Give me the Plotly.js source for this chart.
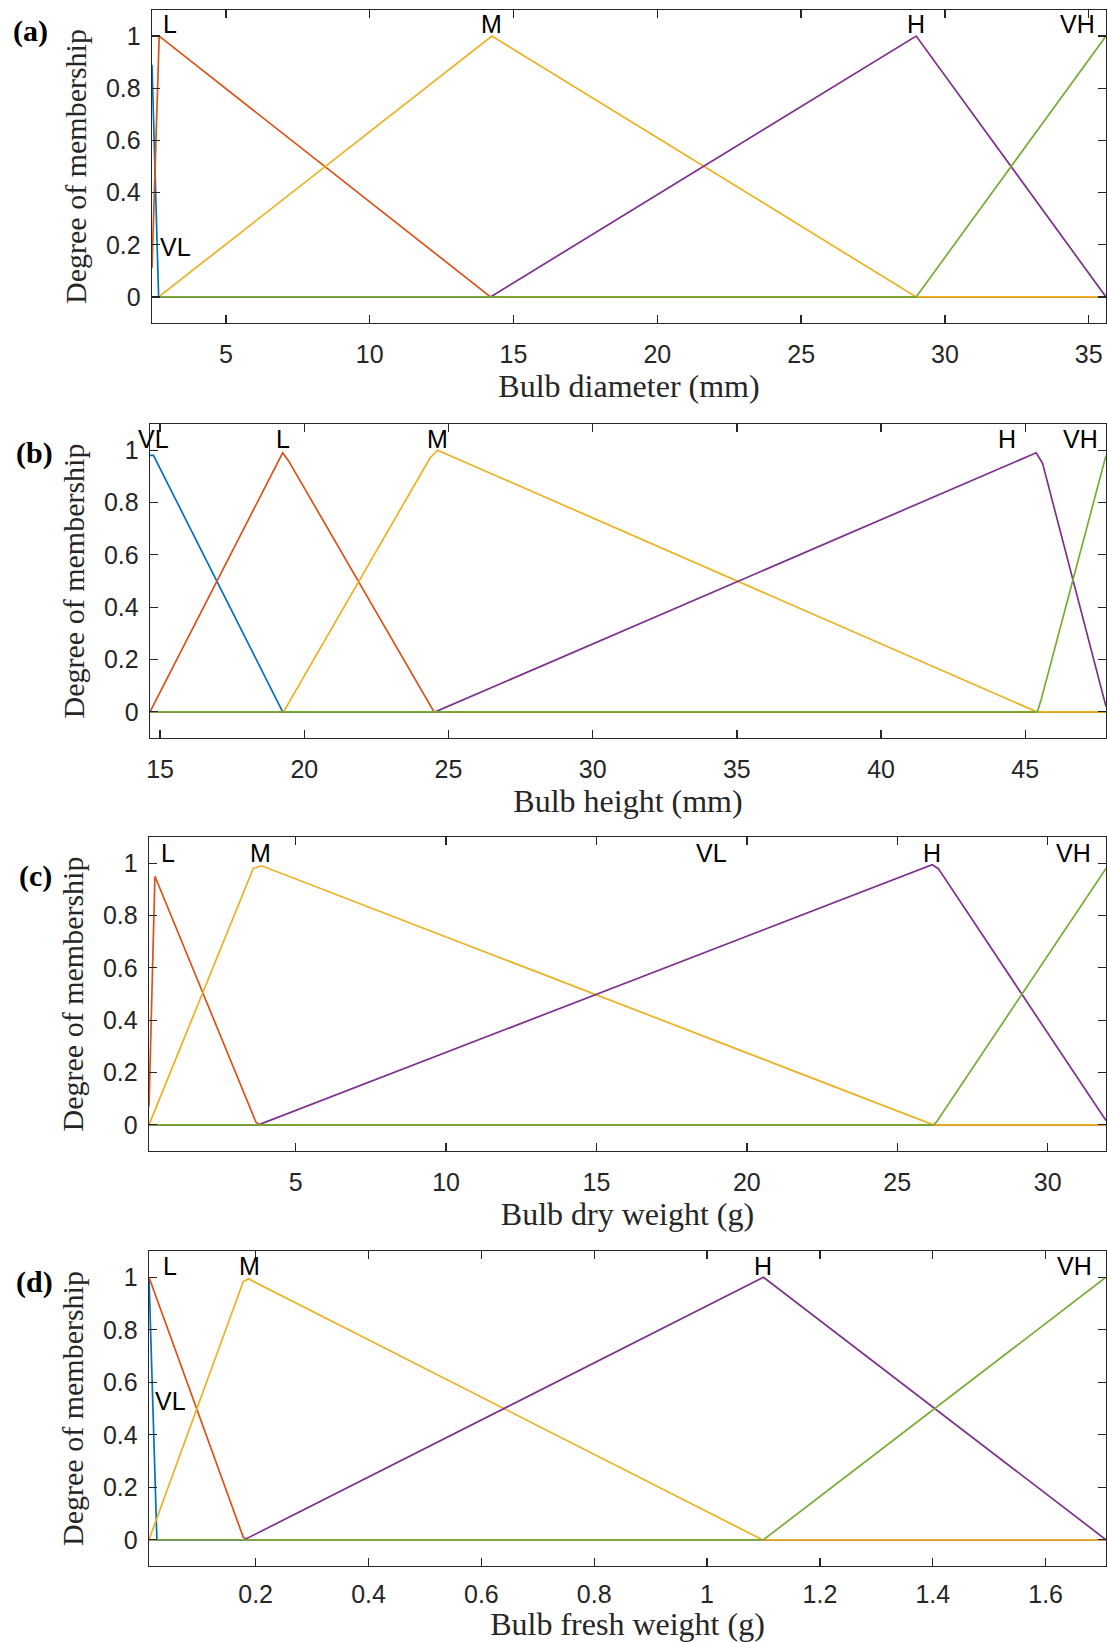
<!DOCTYPE html>
<html>
<head>
<meta charset="utf-8">
<script src="https://cdn.plot.ly/plotly-3.0.1.min.js"></script>
<style>html,body{margin:0;padding:0;background:#fff;}#chart{width:1107px;height:1642px;}</style>
</head>
<body>
<div id="chart"></div>
<script>
// ---------------- DATA ----------------
const mfNames = ["VL", "L", "M", "H", "VH"];
const axisTitles = ["Bulb diameter (mm)", "Bulb height (mm)", "Bulb dry weight (g)", "Bulb fresh weight (g)"];
const yTitle = "Degree of membership";
const panelTags = ["(a)", "(b)", "(c)", "(d)"];

// (a) Bulb diameter
const diamRange = [2.43, 35.6];
const diamTicks = [5, 10, 15, 20, 25, 30, 35];
const diamX_VL = [2.43, 2.66, 35.6];          const diamY_VL = [0.89, 0, 0];
const diamX_L  = [2.43, 2.68, 14.2, 35.6];    const diamY_L  = [0.11, 1, 0, 0];
const diamX_M  = [2.43, 2.66, 14.25, 29.0, 35.6]; const diamY_M = [0, 0, 1, 0, 0];
const diamX_H  = [2.43, 14.2, 29.0, 35.6];    const diamY_H  = [0, 0, 1, 0];
const diamX_VH = [2.43, 29.0, 35.6];          const diamY_VH = [0, 0, 1];
const diamLabX = [3.24, 3.07, 14.25, 29.0, 34.62];
const diamLabY = [0.19, 1.048, 1.048, 1.048, 1.048];

// (b) Bulb height
const heightRange = [14.65, 47.8];
const heightTicks = [15, 20, 25, 30, 35, 40, 45];
const heightX_VL = [14.65, 14.77, 19.25, 47.8];            const heightY_VL = [0.98, 0.98, 0, 0];
const heightX_L  = [14.65, 19.25, 19.45, 24.5, 47.8];      const heightY_L  = [0, 0.99, 0.96, 0, 0];
const heightX_M  = [14.65, 19.28, 24.36, 24.62, 45.4, 47.8]; const heightY_M = [0, 0, 0.97, 1.0, 0, 0];
const heightX_H  = [14.65, 24.54, 45.38, 45.6, 47.8];      const heightY_H  = [0, 0, 0.99, 0.95, 0.02];
const heightX_VH = [14.65, 45.42, 45.56, 47.8];            const heightY_VH = [0, 0, 0.05, 0.98];
const heightLabX = [14.77, 19.25, 24.62, 44.36, 46.91];
const heightLabY = [1.042, 1.042, 1.042, 1.042, 1.042];

// (c) Bulb dry weight
const dryRange = [0.123, 31.94];
const dryTicks = [5, 10, 15, 20, 25, 30];
const dryX_VL = [0.123, 31.94];                       const dryY_VL = [0, 0];
const dryX_L  = [0.123, 0.32, 3.68, 3.8, 31.94];      const dryY_L  = [0.07, 0.95, 0.01, 0, 0];
const dryX_M  = [0.123, 3.59, 3.87, 26.2, 31.94];     const dryY_M  = [0, 0.98, 0.99, 0, 0];
const dryX_H  = [0.123, 3.76, 26.16, 26.36, 31.94];   const dryY_H  = [0, 0, 0.994, 0.98, 0.016];
const dryX_VH = [0.123, 26.2, 26.3, 31.94];           const dryY_VH = [0, 0, 0.01, 0.98];
const dryLabX = [18.84, 0.77, 3.84, 26.17, 30.85];
const dryLabY = [1.038, 1.038, 1.038, 1.038, 1.038];

// (d) Bulb fresh weight
const freshRange = [0.011, 1.707];
const freshTicks = [0.2, 0.4, 0.6, 0.8, 1, 1.2, 1.4, 1.6];
const freshX_VL = [0.011, 0.025, 1.707];               const freshY_VL = [1, 0, 0];
const freshX_L  = [0.011, 0.178, 0.185, 1.707];        const freshY_L  = [1, 0.01, 0, 0];
const freshX_M  = [0.011, 0.178, 0.187, 1.098, 1.707]; const freshY_M  = [0, 0.983, 0.994, 0, 0];
const freshX_H  = [0.011, 0.18, 1.10, 1.707];          const freshY_H  = [0, 0, 1, 0];
const freshX_VH = [0.011, 1.10, 1.707];                const freshY_VH = [0, 0, 1];
const freshLabX = [0.049, 0.048, 0.189, 1.099, 1.652];
const freshLabY = [0.528, 1.041, 1.041, 1.041, 1.041];

const yTicks = [0, 0.2, 0.4, 0.6, 0.8, 1];
const yRange = [-0.1, 1.1];

// ---------------- STYLE / LAYOUT ----------------
const W = 1107, H = 1642;
const colors = ["#0072BD", "#D95319", "#EDB120", "#7E2F8E", "#77AC30"];
const sans = "Liberation Sans, Arial, sans-serif";
const serif = "Liberation Serif, Times New Roman, serif";
const axCol = "#262626";

// pixel boxes [left, top, right, bottom]
const boxes = [[152, 10, 1106, 323], [150, 424, 1106, 738], [149, 837, 1106, 1151], [149, 1251, 1106, 1566]];
const tagPos = [[30, 31], [34, 453], [35, 876], [34, 1282]];
const xLabelStandoff = [9, 9, 9, 6];

const panels = [
  {range: diamRange, ticks: diamTicks, xs: [diamX_VL, diamX_L, diamX_M, diamX_H, diamX_VH], ys: [diamY_VL, diamY_L, diamY_M, diamY_H, diamY_VH], lx: diamLabX, ly: diamLabY},
  {range: heightRange, ticks: heightTicks, xs: [heightX_VL, heightX_L, heightX_M, heightX_H, heightX_VH], ys: [heightY_VL, heightY_L, heightY_M, heightY_H, heightY_VH], lx: heightLabX, ly: heightLabY},
  {range: dryRange, ticks: dryTicks, xs: [dryX_VL, dryX_L, dryX_M, dryX_H, dryX_VH], ys: [dryY_VL, dryY_L, dryY_M, dryY_H, dryY_VH], lx: dryLabX, ly: dryLabY},
  {range: freshRange, ticks: freshTicks, xs: [freshX_VL, freshX_L, freshX_M, freshX_H, freshX_VH], ys: [freshY_VL, freshY_L, freshY_M, freshY_H, freshY_VH], lx: freshLabX, ly: freshLabY}
];

const traces = [];
const layout = {
  width: W, height: H,
  margin: {l: 0, r: 0, t: 0, b: 0},
  paper_bgcolor: "#ffffff", plot_bgcolor: "#ffffff",
  showlegend: false,
  annotations: []
};

panels.forEach((p, i) => {
  const n = i + 1;
  const xa = n === 1 ? "x" : "x" + n;
  const ya = n === 1 ? "y" : "y" + n;
  const b = boxes[i];
  for (let k = 0; k < 5; k++) {
    traces.push({
      type: "scatter", mode: "lines",
      x: p.xs[k], y: p.ys[k], xaxis: xa, yaxis: ya,
      name: mfNames[k],
      line: {color: colors[k], width: 1.7},
      hoverinfo: "skip"
    });
    layout.annotations.push({
      xref: xa, yref: ya, x: p.lx[k], y: p.ly[k],
      text: mfNames[k], showarrow: false,
      xanchor: "center", yanchor: "middle",
      font: {family: sans, size: 25, color: "#000"}
    });
  }
  const common = {
    showgrid: false, zeroline: false,
    showline: true, linecolor: axCol, linewidth: 1.3, mirror: "ticks",
    ticks: "inside", ticklen: 8, tickwidth: 1.3, tickcolor: axCol,
    tickfont: {family: sans, size: 25, color: axCol},
    fixedrange: true
  };
  layout["xaxis" + (n === 1 ? "" : n)] = Object.assign({}, common, {
    anchor: ya,
    domain: [b[0] / W, b[2] / W],
    range: p.range, tickmode: "array", tickvals: p.ticks,
    ticklabelstandoff: xLabelStandoff[i],
    title: {text: axisTitles[i], font: {family: serif, size: 32, color: axCol}, standoff: 0}
  });
  layout["yaxis" + (n === 1 ? "" : n)] = Object.assign({}, common, {
    anchor: xa,
    domain: [1 - b[3] / H, 1 - b[1] / H],
    range: yRange, tickmode: "array", tickvals: yTicks,
    ticklabelstandoff: 5,
    title: {text: yTitle, font: {family: serif, size: 30, color: axCol}, standoff: 10}
  });
  layout.annotations.push({
    xref: "paper", yref: "paper",
    x: tagPos[i][0] / W, y: 1 - tagPos[i][1] / H,
    text: "<b>" + panelTags[i] + "</b>", showarrow: false,
    xanchor: "center", yanchor: "middle",
    font: {family: serif, size: 30, color: "#000"}
  });
});

Plotly.newPlot("chart", traces, layout, {staticPlot: true, displayModeBar: false});
</script>
</body>
</html>
